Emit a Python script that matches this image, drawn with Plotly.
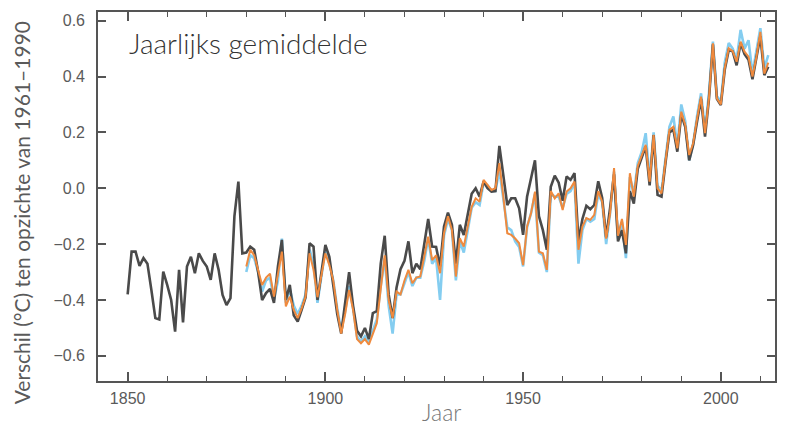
import plotly.graph_objects as go

# Annual global mean surface temperature anomaly (°C, relative to 1961–1990)
years_hadcrut = list(range(1850, 2013))
hadcrut = [
    -0.38, -0.227, -0.227, -0.278, -0.25, -0.27, -0.364, -0.465, -0.47, -0.298,   # 1850s
    -0.346, -0.40, -0.513, -0.292, -0.48, -0.28, -0.245, -0.304, -0.233, -0.26,   # 1860s
    -0.28, -0.328, -0.233, -0.292, -0.382, -0.418, -0.393, -0.10, 0.024, -0.233,  # 1870s
    -0.23, -0.209, -0.22, -0.30, -0.40, -0.375, -0.36, -0.41, -0.28, -0.185,      # 1880s
    -0.40, -0.346, -0.455, -0.477, -0.435, -0.39, -0.197, -0.209, -0.40, -0.30,   # 1890s
    -0.203, -0.245, -0.352, -0.45, -0.52, -0.40, -0.30, -0.42, -0.51, -0.53,      # 1900s
    -0.50, -0.54, -0.447, -0.44, -0.27, -0.17, -0.38, -0.465, -0.355, -0.29,      # 1910s
    -0.26, -0.19, -0.304, -0.27, -0.29, -0.20, -0.11, -0.209, -0.21, -0.28,       # 1920s
    -0.137, -0.087, -0.131, -0.27, -0.131, -0.167, -0.10, -0.02, 0.0, -0.03,      # 1930s
    0.024, 0.0, -0.012, -0.01, 0.152, 0.054, -0.06, -0.036, -0.036, -0.072,       # 1940s
    -0.167, -0.03, 0.03, 0.10, -0.10, -0.15, -0.22, 0.005, 0.045, 0.02,           # 1950s
    -0.045, 0.042, 0.03, 0.054, -0.19, -0.11, -0.063, -0.075, -0.06, 0.025,       # 1960s
    -0.035, -0.176, -0.07, 0.05, -0.19, -0.15, -0.233, -0.01, -0.055, 0.07,       # 1970s
    0.11, 0.15, 0.01, 0.19, -0.024, -0.03, 0.09, 0.20, 0.21, 0.131,               # 1980s
    0.265, 0.22, 0.10, 0.155, 0.24, 0.32, 0.185, 0.32, 0.515, 0.32,               # 1990s
    0.298, 0.425, 0.495, 0.49, 0.44, 0.52, 0.48, 0.46, 0.39, 0.465,               # 2000s
    0.545, 0.405, 0.435,                                                          # 2010s
]

years_noaa = list(range(1880, 2013))
noaa = [
    -0.28, -0.22, -0.24, -0.29, -0.346, -0.32, -0.306, -0.388, -0.30, -0.227,     # 1880s
    -0.423, -0.388, -0.435, -0.465, -0.43, -0.388, -0.233, -0.292, -0.39, -0.316, # 1890s
    -0.233, -0.275, -0.33, -0.435, -0.52, -0.45, -0.364, -0.435, -0.54, -0.555,   # 1900s
    -0.54, -0.56, -0.52, -0.483, -0.36, -0.24, -0.40, -0.465, -0.37, -0.38,       # 1910s
    -0.33, -0.292, -0.34, -0.32, -0.316, -0.25, -0.173, -0.257, -0.24, -0.304,    # 1920s
    -0.161, -0.10, -0.149, -0.316, -0.179, -0.209, -0.13, -0.066, -0.036, -0.048, # 1930s
    0.03, 0.012, -0.006, 0.0, 0.09, -0.03, -0.161, -0.167, -0.18, -0.197,         # 1940s
    -0.275, -0.137, -0.09, -0.012, -0.227, -0.233, -0.292, -0.01, -0.036, -0.018, # 1950s
    -0.078, -0.012, 0.0, 0.024, -0.22, -0.137, -0.107, -0.113, -0.095, -0.01,     # 1960s
    -0.048, -0.18, -0.09, 0.072, -0.17, -0.11, -0.203, 0.054, -0.03, 0.08,        # 1970s
    0.119, 0.155, 0.024, 0.191, 0.0, -0.018, 0.095, 0.209, 0.22, 0.143,           # 1980s
    0.274, 0.227, 0.119, 0.161, 0.25, 0.328, 0.197, 0.322, 0.519, 0.322,          # 1990s
    0.30, 0.43, 0.501, 0.491, 0.453, 0.525, 0.489, 0.471, 0.40, 0.47,             # 2000s
    0.56, 0.41, 0.45,                                                             # 2010s
]

years_giss = list(range(1880, 2013))
giss = [
    -0.30, -0.24, -0.25, -0.30, -0.37, -0.33, -0.32, -0.40, -0.33, -0.18,         # 1880s
    -0.41, -0.36, -0.42, -0.45, -0.42, -0.38, -0.22, -0.27, -0.41, -0.32,         # 1890s
    -0.22, -0.27, -0.33, -0.43, -0.51, -0.44, -0.35, -0.43, -0.53, -0.55,         # 1900s
    -0.53, -0.55, -0.51, -0.47, -0.35, -0.25, -0.42, -0.52, -0.38, -0.38,         # 1910s
    -0.34, -0.30, -0.35, -0.32, -0.32, -0.26, -0.18, -0.27, -0.25, -0.40,         # 1920s
    -0.17, -0.11, -0.15, -0.33, -0.19, -0.23, -0.15, -0.07, -0.05, -0.06,         # 1930s
    0.02, 0.01, -0.01, -0.01, 0.065, -0.04, -0.14, -0.15, -0.19, -0.21,           # 1940s
    -0.28, -0.14, -0.09, -0.02, -0.23, -0.24, -0.30, -0.02, -0.03, -0.03,         # 1950s
    -0.07, -0.02, -0.01, 0.02, -0.27, -0.15, -0.11, -0.12, -0.11, -0.02,          # 1960s
    -0.05, -0.20, -0.09, 0.06, -0.18, -0.12, -0.25, 0.04, -0.02, 0.09,            # 1970s
    0.13, 0.197, 0.03, 0.20, 0.01, -0.01, 0.10, 0.22, 0.257, 0.15,                # 1980s
    0.30, 0.24, 0.10, 0.16, 0.26, 0.34, 0.21, 0.34, 0.525, 0.33,                  # 1990s
    0.31, 0.45, 0.52, 0.50, 0.46, 0.567, 0.50, 0.53, 0.41, 0.49,                  # 2000s
    0.573, 0.43, 0.477,                                                           # 2010s
]

axis_color = "#555555"
label_font = dict(family="Liberation Sans, Arial, sans-serif", size=16, color="#5a5a5a")
text_font = "Lato, 'Open Sans', sans-serif"

fig = go.Figure()
fig.add_trace(go.Scatter(x=years_giss, y=giss, mode="lines",
                         line=dict(color="#84cdf0", width=2.6), hoverinfo="skip"))
fig.add_trace(go.Scatter(x=years_hadcrut, y=hadcrut, mode="lines",
                         line=dict(color="#4a4a4a", width=2.6), hoverinfo="skip"))
fig.add_trace(go.Scatter(x=years_noaa, y=noaa, mode="lines",
                         line=dict(color="#ef8a3e", width=2.0), hoverinfo="skip"))

fig.update_layout(
    width=785, height=426,
    margin=dict(l=98, r=8, t=12, b=45),
    paper_bgcolor="white", plot_bgcolor="white",
    showlegend=False,
    xaxis=dict(
        range=[1842.5, 2013.7], tickmode="linear", tick0=1850, dtick=50,
        ticks="inside", ticklen=9, tickwidth=1.5, tickcolor=axis_color,
        showline=True, linecolor=axis_color, linewidth=1.6, mirror="ticks",
        showgrid=False, zeroline=False, tickfont=label_font, ticklabelstandoff=2,
        minor=dict(tickmode="linear", tick0=1850, dtick=10, ticks="inside",
                   ticklen=5, tickcolor=axis_color, tickwidth=1.3, showgrid=False),
    ),
    yaxis=dict(
        range=[-0.69, 0.631], tickmode="linear", tick0=0, dtick=0.2,
        tickformat=".1f", ticks="inside", ticklen=8, tickwidth=1.5,
        tickcolor=axis_color, showline=True, linecolor=axis_color, linewidth=1.6,
        mirror="ticks", showgrid=False, zeroline=False, tickfont=label_font,
        ticklabelstandoff=8,
    ),
    annotations=[
        dict(text="Jaarlijks gemiddelde", xref="paper", yref="paper",
             x=0.0427, y=0.916, xanchor="left", yanchor="middle", showarrow=False,
             font=dict(family=text_font, size=28, color="#333333", weight=300)),
        dict(text="Verschil (°C) ten opzichte van 1961–1990", xref="paper", yref="paper",
             x=-0.1134, y=0.455, xanchor="center", yanchor="middle", textangle=-90,
             showarrow=False, font=dict(family=text_font, size=21, color="#5a5a5a")),
        dict(text="Jaar", xref="paper", yref="paper", x=0.508, y=-0.084,
             xanchor="center", yanchor="middle", showarrow=False,
             font=dict(family=text_font, size=23, color="#777777", weight=300)),
    ],
)

fig.write_html("out.html")
